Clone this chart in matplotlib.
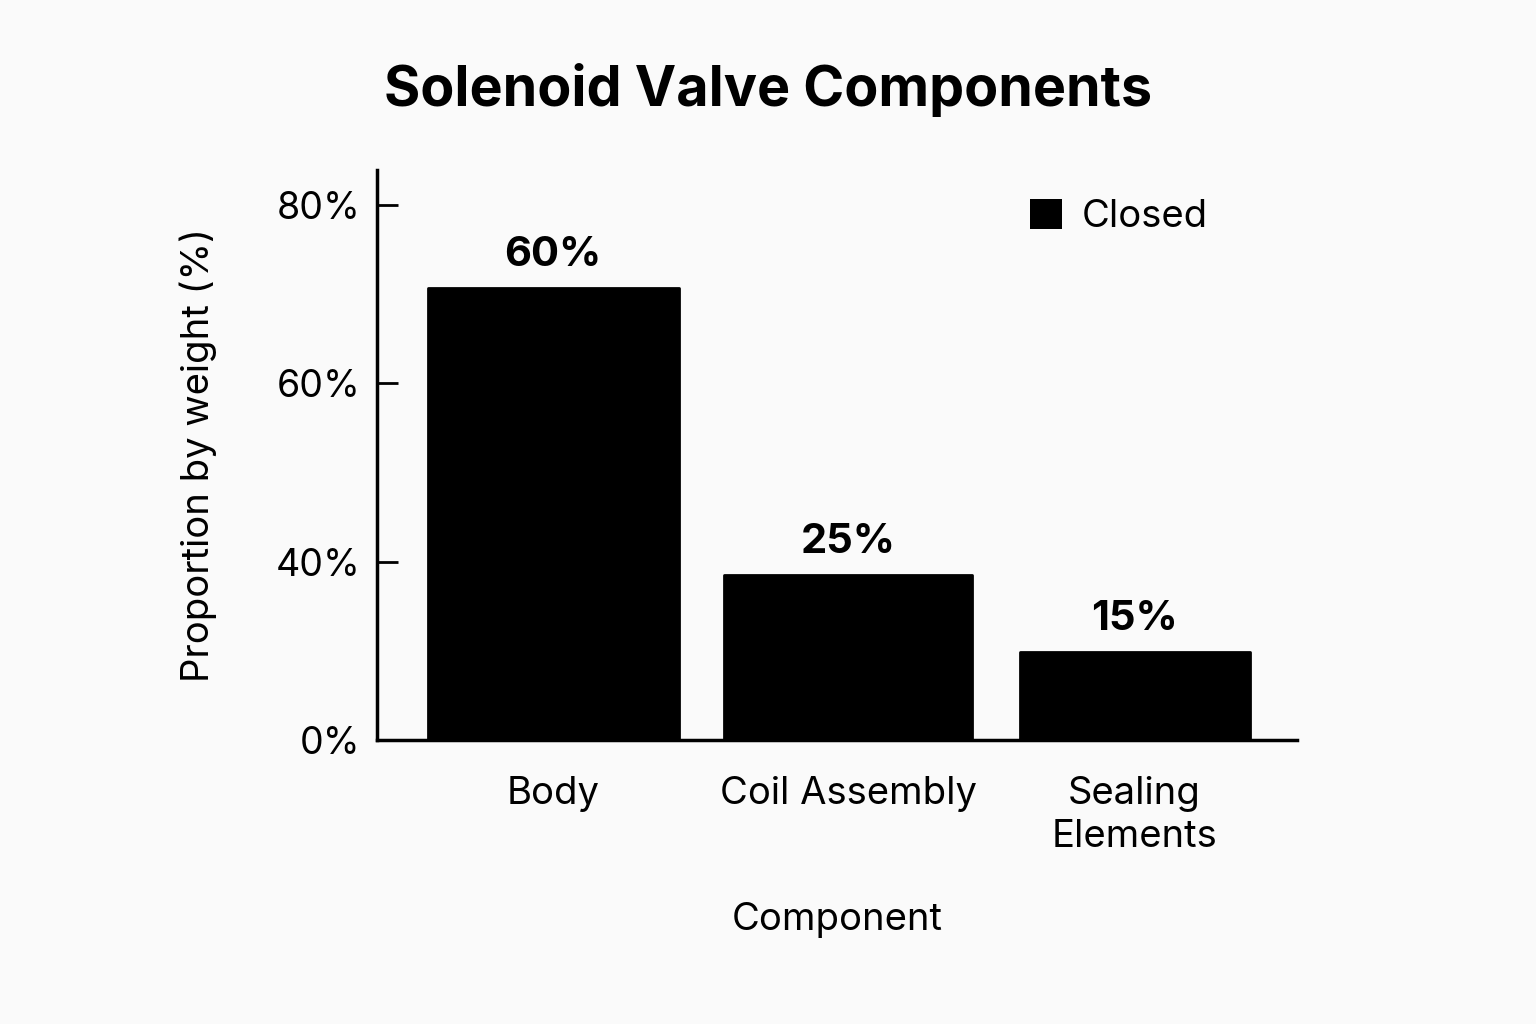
import matplotlib.pyplot as plt
import numpy as np
from matplotlib.patches import Patch

plt.rcParams['font.family'] = ['Inter', 'DejaVu Sans']

# values as drawn in the picture (axis units, axis top ~85)
components = ["Body", "Coil Assembly", "Sealing\nElements"]
bar_heights = [67.6, 24.7, 13.2]
value_labels = ["60%", "25%", "15%"]
bar_widths = [0.85, 0.84, 0.78]
tick_pos = [0, 80 / 3, 160 / 3, 80]
tick_labels = ["0%", "40%", "60%", "80%"]

bg = "#fafafa"
fig = plt.figure(figsize=(15.36, 10.24), dpi=100, facecolor=bg)
ax = fig.add_axes([0.2454, 0.2773, 0.599, 0.5567], facecolor=bg)

x = np.array([0, 1, 1.97])
bars = ax.bar(x, bar_heights, width=bar_widths, color="black",
              edgecolor="black", linewidth=2, joinstyle="round")

for xi, h, lab in zip(x, bar_heights, value_labels):
    ax.annotate(lab, (xi, h), xytext=(0, 10), textcoords="offset points",
                ha="center", va="bottom", fontsize=30, fontweight="bold")

ax.set_xlim(-0.597, 2.52)
ax.set_ylim(0, 85.2)
ax.set_yticks(tick_pos)
ax.set_yticklabels(tick_labels)
ax.set_xticks(x)
ax.set_xticklabels(components, linespacing=1.25)
ax.tick_params(axis="y", direction="in", length=15, width=2, labelsize=27, pad=12)
ax.tick_params(axis="x", length=0, labelsize=27.5, pad=26)

for s in ["top", "right"]:
    ax.spines[s].set_visible(False)
ax.spines["left"].set_linewidth(2.5)
ax.spines["bottom"].set_linewidth(2.5)

ax.set_ylabel("Proportion by weight (%)", fontsize=27.5, labelpad=42)
ax.set_xlabel("Component", fontsize=27.5, labelpad=34)
fig.text(0.5, 0.912, "Solenoid Valve Components", ha="center", va="center",
         fontsize=40, fontweight="bold")

ax.legend(handles=[Patch(facecolor="black", label="Closed")], loc="upper right",
          bbox_to_anchor=(0.94, 1.01), frameon=False, fontsize=27.5,
          handlelength=0.85, handleheight=0.85, handletextpad=0.5)

fig.savefig("out.png", dpi=100, facecolor=bg)
